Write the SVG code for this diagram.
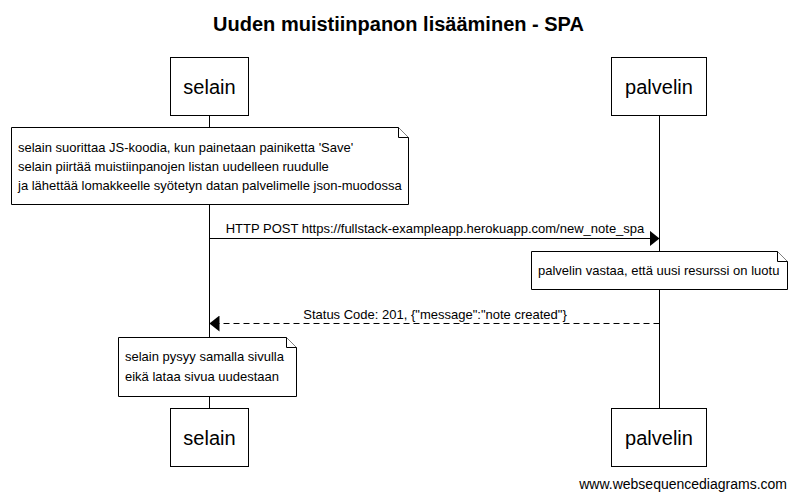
<svg xmlns="http://www.w3.org/2000/svg" width="797" height="500" viewBox="0 0 797 500">
<style>
text{font-family:"Liberation Sans",Arial,sans-serif;fill:#000}
.title{font-size:20px;font-weight:bold}
.part{font-size:20px}
.small{font-size:13px}
.foot{font-size:14px}
.box{fill:#fff;stroke:#000;stroke-width:1}
.life{stroke:#000;stroke-width:1}
.note{fill:#fff;stroke:#000;stroke-width:1}
.msg{stroke:#000;stroke-width:1;fill:none}
</style>
<defs>
<marker id="ah" markerWidth="10" markerHeight="16" refX="10" refY="8" orient="auto" markerUnits="userSpaceOnUse">
<path d="M0,0 L10,8 L0,16 Z" fill="#000"/>
</marker>
</defs>
<rect width="797" height="500" fill="#fff"/>
<text class="title" x="398.5" y="31" text-anchor="middle">Uuden muistiinpanon lisääminen - SPA</text>
<g id="lifelines">
<line class="life" x1="209.5" y1="115" x2="209.5" y2="408"/>
<line class="life" x1="659.5" y1="115" x2="659.5" y2="408"/>
</g>
<g id="selain">
<rect class="box" x="170.5" y="57.5" width="78" height="58"/>
<text class="part" x="209.5" y="94" text-anchor="middle">selain</text>
</g>
<g id="palvelin">
<rect class="box" x="611.5" y="57.5" width="95" height="58"/>
<text class="part" x="659" y="94" text-anchor="middle">palvelin</text>
</g>
<g id="selain-bottom">
<rect class="box" x="170.5" y="408.5" width="78" height="58"/>
<text class="part" x="209.5" y="445" text-anchor="middle">selain</text>
</g>
<g id="palvelin-bottom">
<rect class="box" x="611.5" y="408.5" width="95" height="58"/>
<text class="part" x="659" y="445" text-anchor="middle">palvelin</text>
</g>
<g id="note1">
<path class="note" d="M11.5,127.5 H398.5 L408.5,137.5 V204.5 H11.5 Z"/>
<path class="note" d="M398.5,127.5 V137.5 H408.5" fill="none"/>
<text class="small" x="18" y="152">selain suorittaa JS-koodia, kun painetaan painiketta 'Save'</text>
<text class="small" x="18" y="171">selain piirtää muistiinpanojen listan uudelleen ruudulle</text>
<text class="small" x="18" y="190">ja lähettää lomakkeelle syötetyn datan palvelimelle json-muodossa</text>
</g>
<g id="note2">
<path class="note" d="M531.5,251.5 H777.5 L787.5,261.5 V289.5 H531.5 Z"/>
<path class="note" d="M777.5,251.5 V261.5 H787.5" fill="none"/>
<text class="small" x="538" y="275">palvelin vastaa, että uusi resurssi on luotu</text>
</g>
<g id="note3">
<path class="note" d="M118.5,337.5 H286.5 L296.5,347.5 V396.5 H118.5 Z"/>
<path class="note" d="M286.5,337.5 V347.5 H296.5" fill="none"/>
<text class="small" x="125" y="361">selain pysyy samalla sivulla</text>
<text class="small" x="125" y="381">eikä lataa sivua uudestaan</text>
</g>
<g id="connectors">
<line class="msg" x1="209.5" y1="238.5" x2="659.5" y2="238.5" marker-end="url(#ah)"/>
<text class="small" x="435" y="233" text-anchor="middle">HTTP POST https://fullstack-exampleapp.herokuapp.com/new_note_spa</text>
<line class="msg" x1="659.5" y1="323.5" x2="209.5" y2="323.5" stroke-dasharray="6,4" marker-end="url(#ah)"/>
<text class="small" x="435" y="319" text-anchor="middle">Status Code: 201, {"message":"note created"}</text>
</g>
<text class="foot" x="787" y="489" text-anchor="end">www.websequencediagrams.com</text>
</svg>
